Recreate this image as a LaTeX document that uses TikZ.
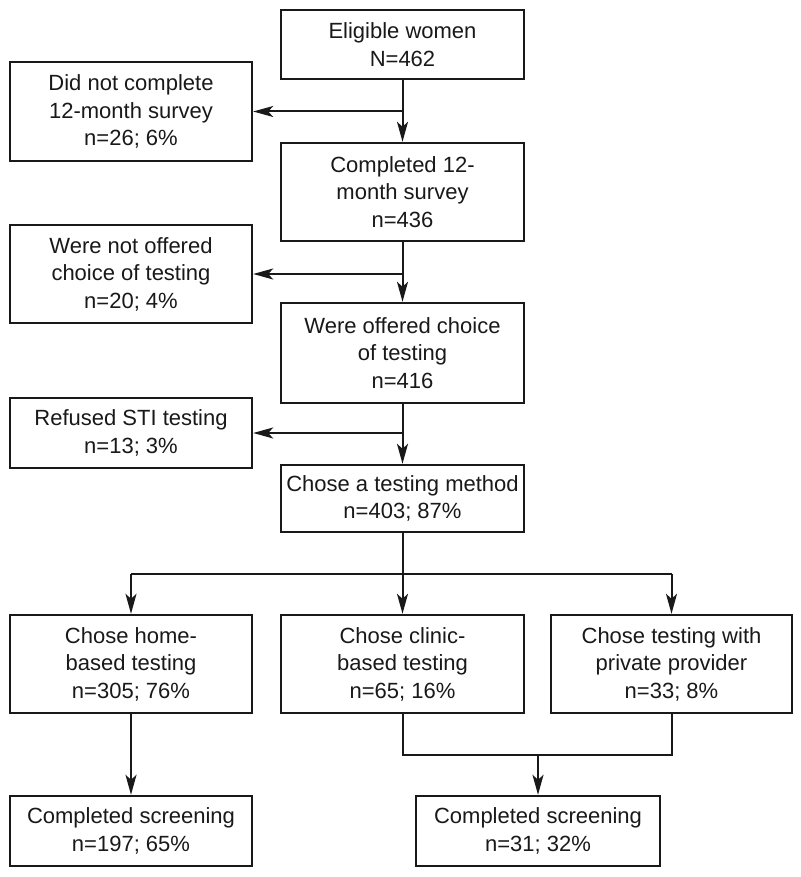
\documentclass[tikz,border=0pt]{standalone}
\usepackage{fontspec}
\setmainfont{Liberation Sans}
\usetikzlibrary{arrows.meta}
\tikzset{
  box/.style={draw=black!90, line width=2.4pt, rectangle, align=center, inner sep=0pt,
    font=\fontsize{22}{27.5}\selectfont, text=black!90},
  conn/.style={draw=black!90, line width=2pt},
  arr/.style={conn, -{Stealth[length=20pt,width=11pt,inset=5pt]}}
}
\begin{document}
\begin{tikzpicture}[x=1pt,y=-1pt]
\useasboundingbox[fill=white] (0,0) rectangle (800,877);
\node[box, minimum width=243pt, minimum height=69pt] (elig) at (402.5,44.5) {Eligible women\\N=462};
\node[box, minimum width=242pt, minimum height=99pt] (dnc) at (131,111.5) {Did not complete\\12-month survey\\n=26; 6\%};
\node[box, minimum width=243pt, minimum height=98pt] (comp) at (402.5,192) {Completed 12-\\month survey\\n=436};
\node[box, minimum width=242pt, minimum height=98pt] (notoff) at (131,274) {Were not offered\\choice of testing\\n=20; 4\%};
\node[box, minimum width=243pt, minimum height=100pt] (off) at (402.5,353) {Were offered choice\\of testing\\n=416};
\node[box, minimum width=242pt, minimum height=70pt] (ref) at (131,433) {Refused STI testing\\n=13; 3\%};
\node[box, minimum width=243pt, minimum height=67pt] (chose) at (402.5,498.5) {Chose a testing method\\n=403; 87\%};
\node[box, minimum width=242pt, minimum height=98pt] (home) at (131,664) {Chose home-\\based testing\\n=305; 76\%};
\node[box, minimum width=243pt, minimum height=98pt] (clinic) at (402.5,664) {Chose clinic-\\based testing\\n=65; 16\%};
\node[box, minimum width=241pt, minimum height=98pt] (priv) at (671.5,664) {Chose testing with\\private provider\\n=33; 8\%};
\node[box, minimum width=242pt, minimum height=70pt] (scr1) at (131,831) {Completed screening\\n=197; 65\%};
\node[box, minimum width=244pt, minimum height=70pt] (scr2) at (538,831) {Completed screening\\n=31; 32\%};

\draw[arr] (elig.south) -- (comp.north);
\draw[arr] (elig.south |- dnc.east) -- (dnc.east);
\draw[arr] (comp.south) -- (off.north);
\draw[arr] (comp.south |- notoff.east) -- (notoff.east);
\draw[arr] (off.south) -- (chose.north);
\draw[arr] (off.south |- ref.east) -- (ref.east);

\coordinate (br) at (402.5,574);
\draw[conn] (chose.south) -- (br);
\draw[conn] (home.north |- br) -- (priv.north |- br);
\draw[arr] (home.north |- br) -- (home.north);
\draw[arr] (br) -- (clinic.north);
\draw[arr] (priv.north |- br) -- (priv.north);

\draw[arr] (home.south) -- (scr1.north);
\coordinate (mg) at (538,755);
\draw[conn] (clinic.south) -- (clinic.south |- mg) -- (priv.south |- mg) -- (priv.south);
\draw[arr] (mg) -- (scr2.north);
\end{tikzpicture}
\end{document}
